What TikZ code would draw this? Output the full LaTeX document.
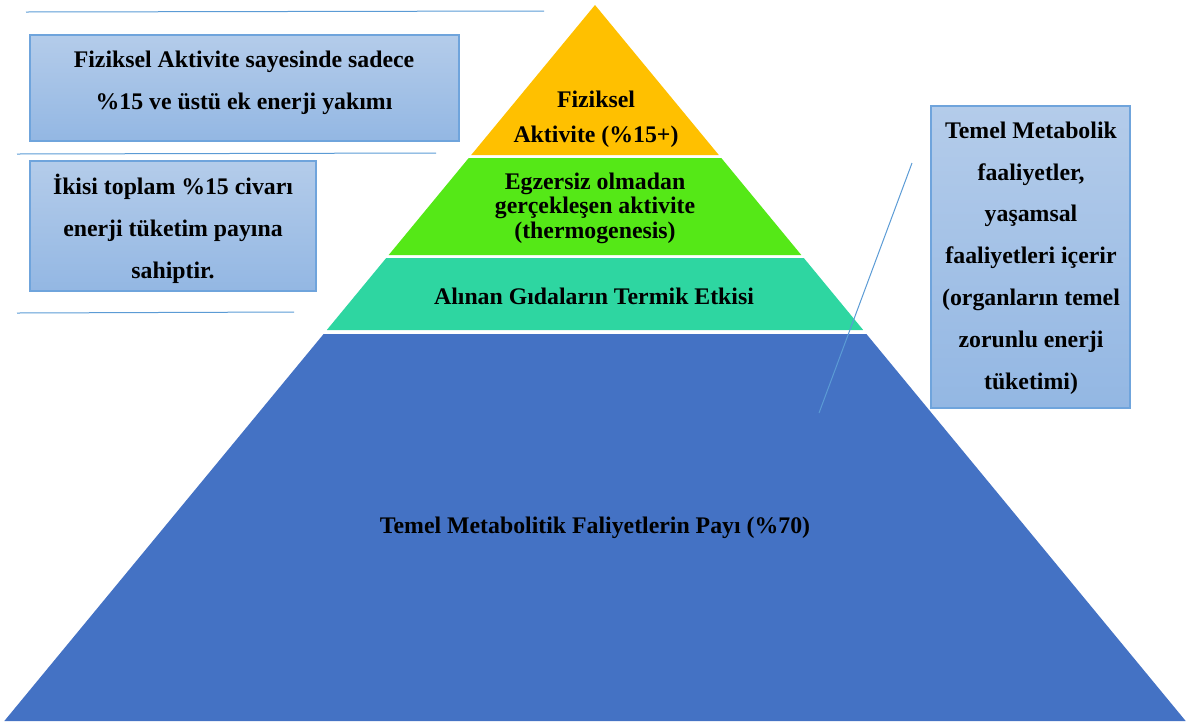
\documentclass[tikz,border=0pt]{standalone}
\usepackage{fontspec}
\setmainfont{Liberation Serif}
\definecolor{pyryellow}{HTML}{FFC000}
\definecolor{pyrgreen}{HTML}{55E817}
\definecolor{pyrteal}{HTML}{2ED6A1}
\definecolor{pyrblue}{HTML}{4472C4}
\definecolor{boxtop}{HTML}{B4CCEA}
\definecolor{boxbot}{HTML}{93B7E3}
\definecolor{boxline}{HTML}{6FA4DC}
\definecolor{rule}{HTML}{5B9BD5}
\tikzset{
  infobox/.style={draw=boxline, line width=1.5pt, top color=boxtop, bottom color=boxbot},
  rulel/.style={draw=rule, line width=1pt},
  wide/.style={align=center, font=\fontsize{23.8}{41.8}\selectfont\bfseries},
  tight/.style={align=center, font=\fontsize{23.8}{24.5}\selectfont\bfseries}
}
\begin{document}
\begin{tikzpicture}[x=1pt,y=-1pt]
\useasboundingbox (0,0) rectangle (1190,724);
% pyramid bands
\draw [fill=pyryellow, draw=none] (595,5) -- (471.2,155) -- (718.8,155) -- cycle;
\draw [fill=pyrgreen, draw=none] (468.7,158) -- (721.3,158) -- (801.3,255) -- (388.7,255) -- cycle;
\draw [fill=pyrteal, draw=none] (386.2,258) -- (803.8,258) -- (863.2,330) -- (326.8,330) -- cycle;
\draw [fill=pyrblue, draw=none] (323.6,334) -- (866.4,334) -- (1185.7,721) -- (4.3,721) -- cycle;
% side boxes
\draw [infobox] (30,35) rectangle (459,141);
\draw [infobox] (30,161) rectangle (316,291);
\draw [infobox] (931,106) rectangle (1130,408);
% rules
\draw [rulel] (26,12) -- (544,11);
\draw [rulel] (17,154) -- (436,153);
\draw [rulel] (17,313) -- (294,312);
\draw [rulel] (912,163) -- (819,413);
% labels
\node [wide] (fizbox) at (244,83) {Fiziksel Aktivite sayesinde sadece\\\%15 ve üstü ek enerji yakımı};
\node [wide] (ikibox) at (173,229) {İkisi toplam \%15 civarı\\enerji tüketim payına\\sahiptir.};
\node [wide] (metbox) at (1031,258) {Temel Metabolik\\faaliyetler,\\yaşamsal\\faaliyetleri içerir\\(organların temel\\zorunlu enerji\\tüketimi)};
\node [tight, font=\fontsize{23.8}{35}\selectfont\bfseries] (fiz) at (596,119) {Fiziksel\\Aktivite (\%15+)};
\node [tight] (egz) at (595,208) {Egzersiz olmadan\\gerçekleşen aktivite\\(thermogenesis)};
\node [tight] (gida) at (594,296) {Alınan Gıdaların Termik Etkisi};
\node [tight] (temel) at (595,528) {Temel Metabolitik Faliyetlerin Payı (\%70)};
\end{tikzpicture}
\end{document}
